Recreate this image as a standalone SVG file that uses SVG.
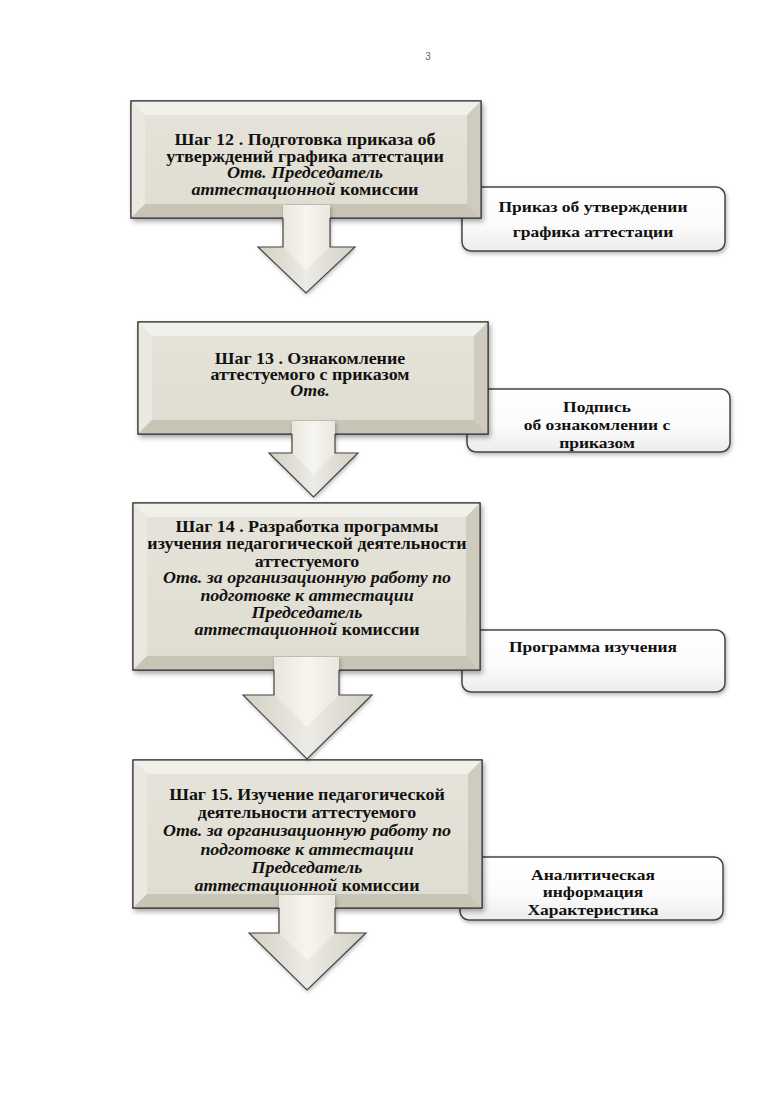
<svg xmlns="http://www.w3.org/2000/svg" width="772" height="1093" viewBox="0 0 772 1093">
<style>
.t{font-family:"Liberation Serif","Times New Roman",serif;font-weight:bold;font-size:16px;fill:#111;text-anchor:middle}
.s{font-family:"Liberation Serif","Times New Roman",serif;font-weight:bold;font-size:15.5px;fill:#111;text-anchor:middle}
.i{font-style:italic}
.face{fill:url(#gFace);stroke:#3a3a3a;stroke-width:1.2}
.bt{fill:#f1f0ea}
.bl{fill:#eae8e0}
.br{fill:#cfccbf}
.bb{fill:#c8c5b7}
.side{fill:url(#gSide);stroke:#444;stroke-width:1.5}
.afill{fill:url(#gArrow)}
.aline{fill:none;stroke:#444;stroke-width:1.2;stroke-linejoin:miter}
.num{font-family:"Liberation Sans",Arial,sans-serif;font-size:10px;fill:#666}
</style>
<defs>
<linearGradient id="gFace" x1="0" y1="0" x2="0" y2="1">
<stop offset="0" stop-color="#e6e4da"/>
<stop offset="1" stop-color="#dfddd1"/>
</linearGradient>
<linearGradient id="gSide" x1="0" y1="0" x2="0" y2="1">
<stop offset="0" stop-color="#ffffff"/>
<stop offset="0.6" stop-color="#fbfbfb"/>
<stop offset="1" stop-color="#ececec"/>
</linearGradient>
<linearGradient id="gArrow" x1="0" y1="0" x2="1" y2="0">
<stop offset="0" stop-color="#dcd9cc"/>
<stop offset="0.35" stop-color="#eeece4"/>
<stop offset="0.5" stop-color="#f6f5f0"/>
<stop offset="0.65" stop-color="#eeece4"/>
<stop offset="1" stop-color="#dcd9cc"/>
</linearGradient>
<filter id="sh" x="-10%" y="-10%" width="120%" height="130%">
<feDropShadow dx="2" dy="3" stdDeviation="2.5" flood-color="#000" flood-opacity="0.35"/>
</filter>
<filter id="sh2" x="-10%" y="-10%" width="120%" height="130%">
<feDropShadow dx="1" dy="2" stdDeviation="2" flood-color="#000" flood-opacity="0.3"/>
</filter>
</defs>
<rect width="772" height="1093" fill="#fff"/>
<text class="num" x="428" y="60" text-anchor="middle">3</text>

<g id="side1">
<rect class="side" x="462" y="187" width="263" height="64" rx="9" filter="url(#sh2)"/>
<g transform="translate(593,0) scale(1.13,1)">
<text class="s" x="0" y="212">Приказ об утверждении</text>
<text class="s" x="0" y="237">графика аттестации</text>
</g>
</g>
<g id="side2">
<rect class="side" x="467" y="389" width="263" height="63" rx="9" filter="url(#sh2)"/>
<g transform="translate(597,0) scale(1.13,1)">
<text class="s" x="0" y="412">Подпись</text>
<text class="s" x="0" y="430">об ознакомлении с</text>
<text class="s" x="0" y="448">приказом</text>
</g>
</g>
<g id="side3">
<rect class="side" x="462" y="630" width="263" height="62" rx="9" filter="url(#sh2)"/>
<g transform="translate(593,0) scale(1.13,1)">
<text class="s" x="0" y="652">Программа изучения</text>
</g>
</g>
<g id="side4">
<rect class="side" x="460" y="857" width="263" height="63" rx="9" filter="url(#sh2)"/>
<g transform="translate(593,0) scale(1.13,1)">
<text class="s" x="0" y="880">Аналитическая</text>
<text class="s" x="0" y="897">информация</text>
<text class="s" x="0" y="915">Характеристика</text>
</g>
</g>

<g id="step12">
<rect class="face" x="131" y="101" width="350" height="117" filter="url(#sh)"/>
<polygon class="bt" points="131,101 481,101 467,115 145,115"/>
<polygon class="bl" points="131,101 145,115 145,204 131,218"/>
<polygon class="br" points="481,101 481,218 467,204 467,115"/>
<polygon class="bb" points="131,218 481,218 467,204 145,204"/>
<rect x="131" y="101" width="350" height="117" fill="none" stroke="#3a3a3a" stroke-width="1.2"/>
<g transform="translate(305,0) scale(1.13,1)">
<text class="t" x="0" y="145">Шаг 12 . Подготовка приказа об</text>
<text class="t" x="0" y="162">утверждений графика аттестации</text>
<text class="t i" x="0" y="178">Отв. Председатель</text>
<text class="t" x="0" y="195"><tspan class="i">аттестационной</tspan> комиссии</text>
</g>
</g>

<g id="step13">
<rect class="face" x="138" y="322" width="350" height="112" filter="url(#sh)"/>
<polygon class="bt" points="138,322 488,322 474,336 152,336"/>
<polygon class="bl" points="138,322 152,336 152,420 138,434"/>
<polygon class="br" points="488,322 488,434 474,420 474,336"/>
<polygon class="bb" points="138,434 488,434 474,420 152,420"/>
<rect x="138" y="322" width="350" height="112" fill="none" stroke="#3a3a3a" stroke-width="1.2"/>
<g transform="translate(310,0) scale(1.12,1)">
<text class="t" x="0" y="364">Шаг 13 . Ознакомление</text>
<text class="t" x="0" y="380">аттестуемого с приказом</text>
<text class="t i" x="0" y="396">Отв.</text>
</g>
</g>

<g id="step14">
<rect class="face" x="133" y="503" width="347" height="167" filter="url(#sh)"/>
<polygon class="bt" points="133,503 480,503 466,517 147,517"/>
<polygon class="bl" points="133,503 147,517 147,656 133,670"/>
<polygon class="br" points="480,503 480,670 466,656 466,517"/>
<polygon class="bb" points="133,670 480,670 466,656 147,656"/>
<rect x="133" y="503" width="347" height="167" fill="none" stroke="#3a3a3a" stroke-width="1.2"/>
<g transform="translate(307,0) scale(1.12,1)">
<text class="t" x="0" y="532">Шаг 14 . Разработка программы</text>
<text class="t" x="0" y="549">изучения педагогической деятельности</text>
<text class="t" x="0" y="567">аттестуемого</text>
<text class="t i" x="0" y="583">Отв. за организационную работу по</text>
<text class="t i" x="0" y="601">подготовке к аттестации</text>
<text class="t i" x="0" y="618">Председатель</text>
<text class="t" x="0" y="635"><tspan class="i">аттестационной</tspan> комиссии</text>
</g>
</g>

<g id="step15">
<rect class="face" x="133" y="760" width="349" height="148" filter="url(#sh)"/>
<polygon class="bt" points="133,760 482,760 468,774 147,774"/>
<polygon class="bl" points="133,760 147,774 147,894 133,908"/>
<polygon class="br" points="482,760 482,908 468,894 468,774"/>
<polygon class="bb" points="133,908 482,908 468,894 147,894"/>
<rect x="133" y="760" width="349" height="148" fill="none" stroke="#3a3a3a" stroke-width="1.2"/>
<g transform="translate(307,0) scale(1.12,1)">
<text class="t" x="0" y="800">Шаг 15. Изучение педагогической</text>
<text class="t" x="0" y="818">деятельности аттестуемого</text>
<text class="t i" x="0" y="836">Отв. за организационную работу по</text>
<text class="t i" x="0" y="855">подготовке к аттестации</text>
<text class="t i" x="0" y="873">Председатель</text>
<text class="t" x="0" y="891"><tspan class="i">аттестационной</tspan> комиссии</text>
</g>
</g>

<g id="connectors">
<g id="arrow1">
<polygon class="afill" points="283,205 330,205 330,247 355,247 306,293 258,247 283,247" filter="url(#sh2)"/>
<polygon points="258,247 283,247 306,270 330,247 355,247 306,293" fill="#000" opacity="0.04"/>
<polyline class="aline" points="283,218 283,247 258,247 306,293 355,247 330,247 330,218"/>
</g>
<g id="arrow2">
<polygon class="afill" points="292,421 335,421 335,453 358,453 313.5,497 269,453 292,453" filter="url(#sh2)"/>
<polygon points="269,453 292,453 313.5,474 335,453 358,453 313.5,497" fill="#000" opacity="0.04"/>
<polyline class="aline" points="292,434 292,453 269,453 313.5,497 358,453 335,453 335,434"/>
</g>
<g id="arrow3">
<polygon class="afill" points="274,657 339,657 339,695 372,695 307,759 243,695 274,695" filter="url(#sh2)"/>
<polygon points="243,695 274,695 307,727 339,695 372,695 307,759" fill="#000" opacity="0.04"/>
<polyline class="aline" points="274,670 274,695 243,695 307,759 372,695 339,695 339,670"/>
</g>
<g id="arrow4">
<polygon class="afill" points="279,895 335,895 335,933 366,933 307,990 249,933 279,933" filter="url(#sh2)"/>
<polygon points="249,933 279,933 307,960 335,933 366,933 307,990" fill="#000" opacity="0.04"/>
<polyline class="aline" points="279,908 279,933 249,933 307,990 366,933 335,933 335,908"/>
</g>
</g>
</svg>
